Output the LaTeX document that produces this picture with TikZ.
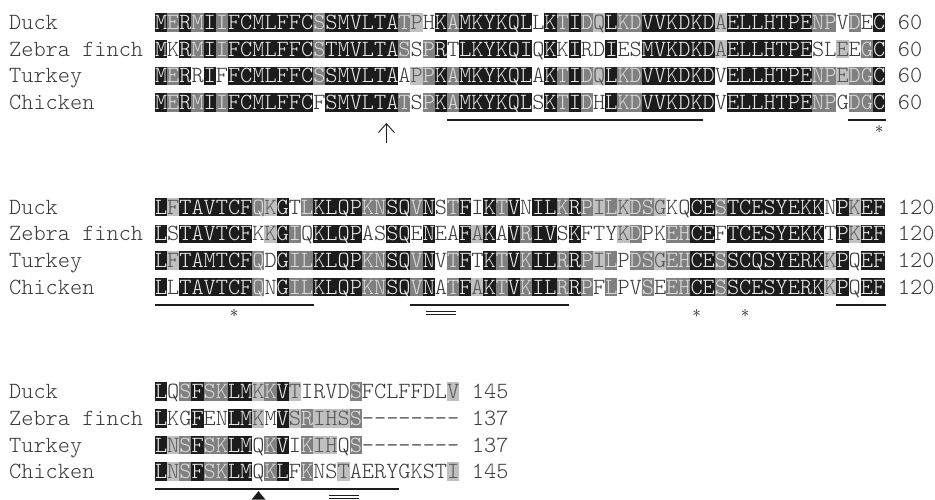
\documentclass[tikz,border=0pt]{standalone}
\usepackage{xstring}
\usetikzlibrary{arrows.meta}

\definecolor{cBlk}{HTML}{1C1C1C}
\definecolor{cDrk}{HTML}{808080}
\definecolor{cLgt}{HTML}{C0C0C0}
\definecolor{cInk}{HTML}{3A3A3A}
% shading classes: B = 100 %, D = 75 %, L = 50 %, W = not conserved
\colorlet{bgB}{cBlk}  \colorlet{fgB}{white!92!black}
\colorlet{bgD}{cDrk}  \colorlet{fgD}{white!86!black}
\colorlet{bgL}{cLgt}  \colorlet{fgL}{black!66}
\colorlet{bgW}{white} \colorlet{fgW}{cInk}

\begin{document}
\begin{tikzpicture}[
    x=1pt, y=-1pt, font=\ttfamily\fontseries{l}\fontsize{23.2}{28}\selectfont,
    res/.style={inner sep=0pt, minimum width=12.45pt, minimum height=18.5pt,
                text height=14.2pt, text depth=0pt},
    lbl/.style={inner sep=0pt, anchor=west, text=cInk,
                text height=14.2pt, text depth=0pt},
    uline/.style={line width=2pt, cBlk},
    dline/.style={line width=1.1pt, cBlk},
    star/.style={inner sep=0pt, font=\fontsize{18.5}{18.5}\selectfont, text=cBlk,
                 text height=8.2pt, text depth=0pt},
    site/.style={-{Straight Barb[length=9pt, width=16pt]}, line width=0.9pt, cBlk},
]
\useasboundingbox (0,0) rectangle (935,500);

% ===========================================================================
% Block 1 -- residues 1-60
% ===========================================================================
\foreach \r/\name/\seq/\shd in {
    0/Duck/MERMIIFCMLFFCSSMVLTATPHKAMKYKQLLKTIDQLKDVVKDKDAELLHTPENPVDEC/BDBDBDBBBBBBBDBBBBBBDLWBDBBBBBBWBDBDLBDDBBBBBBLBBBBBBBDDWDWB,
    1/Zebra finch/MKRMIIFCMLFFCSTMVLTASSPRTLKYKQIQKKIRDIESMVKDKDAELLHTPESLEEGC/BWBDBDBBBBBBBDBBBBBBDWDBWBBBBBBWBWBWWBWWBBBBBBLBBBBBBBWWLWDB,
    2/Turkey/MERRIFFCMLFFCSSMVLTAAPPKAMKYKQLAKTIDQLKDVVKDKDVELLHTPENPEDGC/BDBWBWBBBBBBBDBBBBBBWLDBDBBBBBBWBDBDLBDDBBBBBBWBBBBBBBDDLDDB,
    3/Chicken/MERMIIFCMLFFCFSMVLTATSPKAMKYKQLSKTIDHLKDVVKDKDVELLHTPENPGDGC/BDBDBDBBBBBBBWBBBBBBDWDBDBBBBBBWBDBDWBDDBBBBBBWBBBBBBBDDWDDB}
{
    \pgfmathsetmacro\yc{22.5+26.67*\r}
    \node[lbl] (n1-\r) at (9,\yc) {\name};
    \foreach \i in {1,...,60} {
        \StrChar{\seq}{\i}[\ch]\StrChar{\shd}{\i}[\sh]
        \node[res, fill=bg\sh, text=fg\sh] (b1-\r-\i) at (148.96+12.17*\i,\yc) {\ch};
    }
    \node[lbl] (e1-\r) at ([xshift=12.1pt]b1-\r-60.east) {60};
}

% ----- cleavage site, underlined stretches, Cys -----
\draw[site] ([xshift=-0.2pt,yshift=-31pt]b1-3-19.south east)
         -- ([xshift=-0.2pt,yshift=-11pt]b1-3-19.south east);
\draw[uline] ([yshift=-8pt]b1-3-25.south west) -- ([yshift=-8pt]b1-3-45.south east);
\draw[uline] ([yshift=-8pt]b1-3-58.south west) -- ([yshift=-8pt]b1-3-60.south east);
\node[star] (s1-60) at ([yshift=-17pt]b1-3-60.south) {$\ast$};

% ===========================================================================
% Block 2 -- residues 61-120
% ===========================================================================
\foreach \r/\name/\seq/\shd in {
    0/Duck/LFTAVTCFQKGTLKLQPKNSQVNSTFIKTVNILKRPILKDSGKQCESTCESYEKKNPKEF/BLBBBBBBDLBWDBBBBDDBBDBWDBWBDBWBBDBDLDLDDLWWBBDBBBBBBBBWBLBB,
    1/Zebra finch/LSTAVTCFKKGIQKLQPASSQENEAFAKAVRIVSKFTYKDPKEHCEFTCESYEKKTPKEF/BWBBBBBBWLBDWBBBBWWBBWBWWBLBWBDBBWBWWWLDWWDDBBWBBBBBBBBWBLBB,
    2/Turkey/LFTAMTCFQDGILKLQPKNSQVNVTFTKTVKILRRPILPDSGEHCESSCQSYERKKPQEF/BLBBBBBBDWBDDBBBBDDBBDBWDBWBDBDBBDBDLDWDDLDDBBDBBBBBBBBLBWBB,
    3/Chicken/LLTAVTCFQNGILKLQPKNSQVNATFAKTVKILRRPFLPVSEEHCESSCESYERKKPQEF/BWBBBBBBDWBDDBBBBDDBBDBWDBLBDBDBBDBDWDWWDWDDBBDBBBBBBBBLBWBB}
{
    \pgfmathsetmacro\yc{207.1+26.67*\r}
    \node[lbl] (n2-\r) at (9,\yc) {\name};
    \foreach \i in {1,...,60} {
        \StrChar{\seq}{\i}[\ch]\StrChar{\shd}{\i}[\sh]
        \node[res, fill=bg\sh, text=fg\sh] (b2-\r-\i) at (148.96+12.17*\i,\yc) {\ch};
    }
    \node[lbl] (e2-\r) at ([xshift=12.1pt]b2-\r-60.east) {120};
}

\draw[uline] ([yshift=-8pt]b2-3-1.south west) -- ([yshift=-8pt]b2-3-13.south east);
\draw[uline] ([yshift=-8pt]b2-3-22.south west) -- ([yshift=-8pt]b2-3-34.south east);
\draw[uline] ([yshift=-8pt]b2-3-57.south west) -- ([yshift=-8pt]b2-3-60.south east);
\draw[dline] ([xshift=-15pt,yshift=-14.5pt]b2-3-24.south) -- ([xshift=15pt,yshift=-14.5pt]b2-3-24.south);
\draw[dline] ([xshift=-15pt,yshift=-17.5pt]b2-3-24.south) -- ([xshift=15pt,yshift=-17.5pt]b2-3-24.south);
\foreach \i in {7, 45, 49}
    \node[star] (s2-\i) at ([yshift=-17pt]b2-3-\i.south) {$\ast$};

% ===========================================================================
% Block 3 -- residues 121-145
% ===========================================================================
\foreach \r/\name/\seq/\shd/\num in {
    0/Duck/LQSFSKLMKKVTIRVDSFCLFFDLV/BWDBDDBBLDBLWWWWDWWWWWWWL/145,
    1/Zebra finch/LKGFENLMKMVSRIHSS--------/BWWBWWBBLWBLDLLLDWWWWWWWW/137,
    2/Turkey/LNSFSKLMQKVIKIHQS--------/BLDBDDBBWDBWDLLWDWWWWWWWW/137,
    3/Chicken/LNSFSKLMQKLFKNSTAERYGKSTI/BLDBDDBBWDBWDWWLWWWWWWWWL/145}
{
    \pgfmathsetmacro\yc{391.7+26.67*\r}
    \node[lbl] (n3-\r) at (9,\yc) {\name};
    \foreach \i in {1,...,25} {
        \StrChar{\seq}{\i}[\ch]\StrChar{\shd}{\i}[\sh]
        \node[res, fill=bg\sh, text=fg\sh] (b3-\r-\i) at (148.96+12.17*\i,\yc) {\ch};
    }
    \node[lbl] (e3-\r) at ([xshift=12.1pt]b3-\r-25.east) {\num};
}

\draw[uline] ([yshift=-8pt]b3-3-1.south west) -- ([yshift=-8pt]b3-3-20.south east);
\coordinate (tip) at ([yshift=-10pt]b3-3-9.south);
\fill[cBlk] (tip) -- ([xshift=-7pt,yshift=-18.5pt]b3-3-9.south)
                  -- ([xshift=7pt,yshift=-18.5pt]b3-3-9.south) -- cycle;
\draw[dline] ([xshift=-15pt,yshift=-14.5pt]b3-3-16.south) -- ([xshift=15pt,yshift=-14.5pt]b3-3-16.south);
\draw[dline] ([xshift=-15pt,yshift=-17.5pt]b3-3-16.south) -- ([xshift=15pt,yshift=-17.5pt]b3-3-16.south);

\end{tikzpicture}
\end{document}
